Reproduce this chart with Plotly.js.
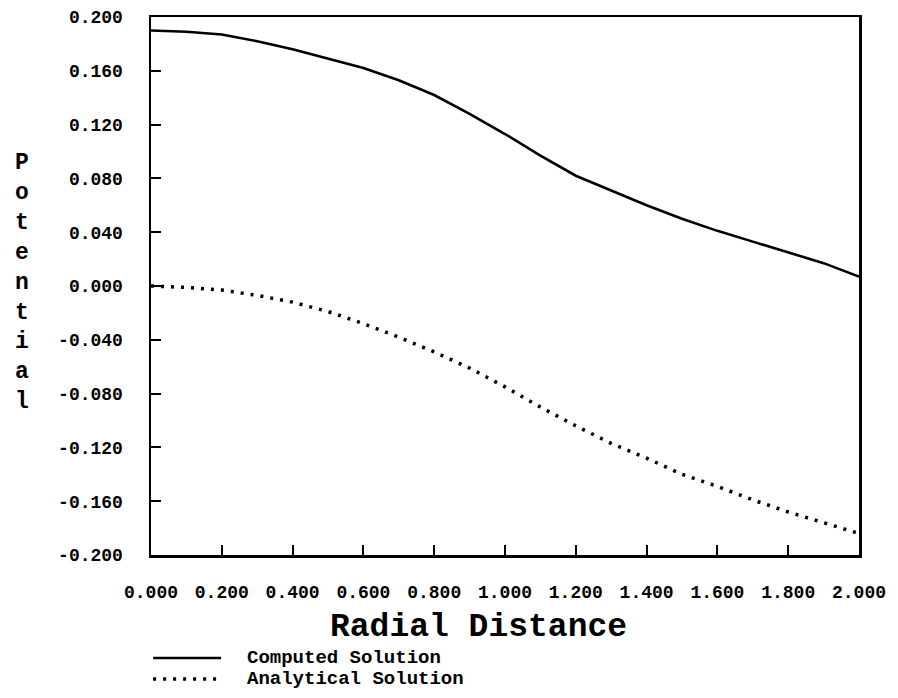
<!DOCTYPE html>
<html>
<head>
<meta charset="utf-8">
<script src="https://cdn.plot.ly/plotly-3.0.1.min.js"></script>
<style>
html,body{margin:0;padding:0;background:#fff;}
#chart{width:898px;height:698px;}
</style>
</head>
<body>
<div id="chart"></div>
<script>
// Data
const radialDistance = [0.0,0.1,0.2,0.3,0.4,0.5,0.6,0.7,0.8,0.9,1.0,1.1,1.2,1.3,1.4,1.5,1.6,1.7,1.8,1.9,2.0];
const computedSolution = [0.190,0.189,0.187,0.182,0.176,0.169,0.162,0.153,0.142,0.128,0.113,0.097,0.082,0.071,0.060,0.050,0.041,0.033,0.025,0.017,0.007];
const analyticalSolution = [0.000,-0.001,-0.003,-0.007,-0.012,-0.019,-0.028,-0.038,-0.049,-0.061,-0.075,-0.090,-0.104,-0.117,-0.128,-0.140,-0.149,-0.159,-0.168,-0.176,-0.184];

const xTickVals = [0,0.2,0.4,0.6,0.8,1.0,1.2,1.4,1.6,1.8,2.0];
const xTickText = ["0.000","0.200","0.400","0.600","0.800","1.000","1.200","1.400","1.600","1.800","2.000"];
const yTickVals = [0.2,0.16,0.12,0.08,0.04,0,-0.04,-0.08,-0.12,-0.16,-0.2];
const yTickText = ["0.200","0.160","0.120","0.080","0.040","0.000","-0.040","-0.080","-0.120","-0.160","-0.200"];

const seriesNames = ["Computed Solution","Analytical Solution"];
const xTitle = "Radial Distance";
const yTitle = "Potential";

const FONT = "'Courier New', 'Liberation Mono', monospace";

const traces = [
  {x: radialDistance, y: computedSolution, name: seriesNames[0], mode: 'lines',
   line: {color: '#000', width: 2.6}, showlegend: false, hoverinfo: 'skip'},
  {x: radialDistance, y: analyticalSolution, name: seriesNames[1], mode: 'lines',
   line: {color: '#000', width: 3.5, dash: '3px,7px'}, showlegend: false, hoverinfo: 'skip'}
];

const legY1 = -0.1914, legY2 = -0.2305;

const layout = {
  width: 898, height: 698,
  margin: {l: 151, r: 39, t: 17, b: 143},
  paper_bgcolor: '#fff', plot_bgcolor: '#fff',
  font: {family: FONT, color: '#000'},
  xaxis: {
    range: [0, 2], tickvals: xTickVals, ticktext: xTickText,
    ticks: 'inside', ticklen: 10, tickwidth: 2, tickcolor: '#000',
    showline: true, linewidth: 2.5, linecolor: '#000', mirror: true,
    showgrid: false, zeroline: false, ticklabelstandoff: 19,
    tickfont: {family: FONT, size: 18, weight: 'bold', color: '#000'}
  },
  yaxis: {
    range: [-0.2, 0.2], tickvals: yTickVals, ticktext: yTickText,
    ticks: 'inside', ticklen: 10, tickwidth: 2, tickcolor: '#000',
    showline: true, linewidth: 2.5, linecolor: '#000', mirror: true,
    showgrid: false, zeroline: false, ticklabelstandoff: 22,
    tickfont: {family: FONT, size: 18, weight: 'bold', color: '#000'}
  },
  annotations: [
    {text: xTitle, xref: 'paper', yref: 'paper', x: 0.462, y: -0.134,
     xanchor: 'center', yanchor: 'middle', showarrow: false,
     font: {family: FONT, size: 33, weight: 'bold', color: '#000'}},
    {text: yTitle.split('').join('<br>'), xref: 'paper', yref: 'paper', x: -0.182, y: 0.507,
     xanchor: 'center', yanchor: 'middle', showarrow: false,
     font: {family: FONT, size: 23, weight: 'bold', color: '#000'}},
    {text: seriesNames[0], xref: 'paper', yref: 'paper', x: 0.1328, y: legY1,
     xanchor: 'left', yanchor: 'middle', showarrow: false,
     font: {family: FONT, size: 19, weight: 'bold', color: '#000'}},
    {text: seriesNames[1], xref: 'paper', yref: 'paper', x: 0.1328, y: legY2,
     xanchor: 'left', yanchor: 'middle', showarrow: false,
     font: {family: FONT, size: 19, weight: 'bold', color: '#000'}}
  ],
  shapes: [
    {type: 'line', xref: 'paper', yref: 'paper', x0: 0.003, x1: 0.099, y0: legY1, y1: legY1,
     line: {color: '#000', width: 2.6}},
    {type: 'line', xref: 'paper', yref: 'paper', x0: 0.003, x1: 0.099, y0: legY2, y1: legY2,
     line: {color: '#000', width: 3.5, dash: '3px,7px'}}
  ]
};

Plotly.newPlot('chart', traces, layout, {staticPlot: true, displayModeBar: false});
</script>
</body>
</html>
